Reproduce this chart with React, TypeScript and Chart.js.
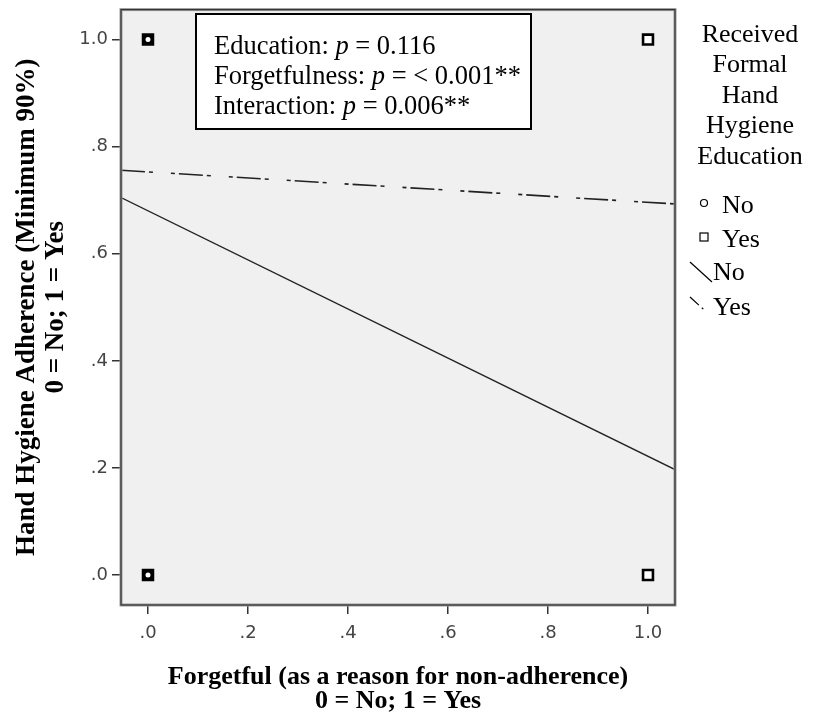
import React, { useEffect, useRef } from 'react';
import { Chart, registerables } from 'chart.js';

Chart.register(...registerables);

// ---- data ----
const xTickValues = [0, 0.2, 0.4, 0.6, 0.8, 1.0];
const xTickLabels = ['.0', '.2', '.4', '.6', '.8', '1.0'];
const yTickValues = [0, 0.2, 0.4, 0.6, 0.8, 1.0];
const yTickLabels = ['.0', '.2', '.4', '.6', '.8', '1.0'];

const xRange = [-0.054, 1.054];
const yRange = [-0.056, 1.056];

const obsNoX = [0, 0];
const obsNoY = [0, 1];
const obsYesX = [0, 0, 1, 1];
const obsYesY = [0, 1, 0, 1];

const fitX = [-0.054, 1.054];
const fitNo = [0.705, 0.197];
const fitYes = [0.756, 0.693];

const legendTitle = ['Received', 'Formal', 'Hand', 'Hygiene', 'Education'];
const legendLabels = ['No', 'Yes', 'No', 'Yes'];

const statLabels = ['Education: ', 'Forgetfulness: ', 'Interaction: '];
const statValues = [' = 0.116', ' = < 0.001**', ' = 0.006**'];

const xTitle = ['Forgetful (as a reason for non-adherence)', '0 = No; 1 = Yes'];
const yTitle = ['Hand Hygiene Adherence (Minimum 90%)', '0 = No; 1 = Yes'];

const SERIF = '"Liberation Serif", "Times New Roman", serif';
const DASH_DOT = [24, 4, 4, 18, 4, 4];

const toPts = (xs: number[], ys: number[]) => xs.map((x, i) => ({ x, y: ys[i] }));

const decorPlugin = {
  id: 'decor',
  beforeDraw(chart: any) {
    const { ctx, chartArea: a } = chart;
    ctx.save();
    ctx.fillStyle = '#f0f0f0';
    ctx.fillRect(a.left, a.top, a.right - a.left, a.bottom - a.top);
    ctx.restore();
  },
  afterDatasetsDraw(chart: any) {
    const { ctx, chartArea: a } = chart;
    ctx.save();
    // frame
    ctx.strokeStyle = '#9a9a9a';
    ctx.lineWidth = 3;
    ctx.strokeRect(a.left, a.top, a.right - a.left, a.bottom - a.top);
    ctx.strokeStyle = '#333';
    ctx.lineWidth = 1.2;
    ctx.strokeRect(a.left, a.top, a.right - a.left, a.bottom - a.top);

    // stats box
    const bx = 196, by = 14, bw = 335, bh = 115;
    ctx.fillStyle = '#fff';
    ctx.fillRect(bx, by, bw, bh);
    ctx.strokeStyle = '#000';
    ctx.lineWidth = 2;
    ctx.strokeRect(bx, by, bw, bh);
    ctx.fillStyle = '#000';
    ctx.textBaseline = 'middle';
    ctx.textAlign = 'left';
    statLabels.forEach((lab, i) => {
      const y = 47 + i * 30;
      let x = 214;
      ctx.font = `26.5px ${SERIF}`;
      ctx.fillText(lab, x, y);
      x += ctx.measureText(lab).width;
      ctx.font = `italic 26.5px ${SERIF}`;
      ctx.fillText('p', x, y);
      x += ctx.measureText('p').width;
      ctx.font = `26.5px ${SERIF}`;
      ctx.fillText(statValues[i], x, y);
    });

    // axis titles
    ctx.textBaseline = 'alphabetic';
    ctx.font = `bold 26px ${SERIF}`;
    ctx.textAlign = 'center';
    const cx = (a.left + a.right) / 2;
    ctx.fillText(xTitle[0], cx, 684);
    ctx.fillText(xTitle[1], cx, 708);
    const cy = (a.top + a.bottom) / 2;
    ctx.save();
    ctx.translate(34, cy);
    ctx.rotate(-Math.PI / 2);
    ctx.font = `bold 27px ${SERIF}`;
    ctx.fillText(yTitle[0], 0, 0);
    ctx.fillText(yTitle[1], 0, 29);
    ctx.restore();

    // legend
    ctx.textBaseline = 'middle';
    ctx.font = `26px ${SERIF}`;
    ctx.textAlign = 'center';
    legendTitle.forEach((t, i) => ctx.fillText(t, 750, 35 + i * 30.5));
    ctx.textAlign = 'left';
    const ly = [206, 240, 273, 308];
    legendLabels.forEach((t, i) => ctx.fillText(t, i < 2 ? 722 : 713, ly[i]));
    // legend symbols
    ctx.strokeStyle = '#000';
    ctx.lineWidth = 1.2;
    ctx.beginPath();
    ctx.arc(704, ly[0] - 3, 3.5, 0, Math.PI * 2);
    ctx.stroke();
    ctx.strokeRect(700, ly[1] - 7, 8, 8);
    ctx.beginPath();
    ctx.moveTo(690, ly[2] - 11);
    ctx.lineTo(712, ly[2] + 9);
    ctx.stroke();
    ctx.setLineDash([12, 4, 2, 20]);
    ctx.beginPath();
    ctx.moveTo(690, ly[3] - 11);
    ctx.lineTo(712, ly[3] + 9);
    ctx.stroke();
    ctx.restore();
  },
};

export default function App() {
  const ref = useRef<HTMLCanvasElement>(null);
  useEffect(() => {
    if (!ref.current) return;
    const fixTicks = (vals: number[]) => (scale: any) => {
      scale.ticks = vals.map((v) => ({ value: v }));
    };
    const chart = new Chart(ref.current, {
      type: 'scatter',
      data: {
        datasets: [
          {
            label: 'No',
            data: toPts(obsNoX, obsNoY),
            pointStyle: 'circle',
            pointRadius: 4,
            pointBorderWidth: 3,
            backgroundColor: '#fff',
            borderColor: '#000',
            order: 0,
          },
          {
            label: 'Yes',
            data: toPts(obsYesX, obsYesY),
            pointStyle: 'rect',
            pointRadius: 7,
            pointBorderWidth: 2.6,
            backgroundColor: '#fff',
            borderColor: '#000',
            order: 1,
          },
          {
            label: 'Fit No',
            data: toPts(fitX, fitNo),
            showLine: true,
            pointRadius: 0,
            borderColor: '#222',
            borderWidth: 1.4,
            order: 2,
          },
          {
            label: 'Fit Yes',
            data: toPts(fitX, fitYes),
            showLine: true,
            pointRadius: 0,
            borderColor: '#222',
            borderWidth: 1.6,
            borderDash: DASH_DOT,
            order: 3,
          },
        ],
      },
      options: {
        responsive: false,
        animation: false,
        layout: { padding: { top: 8, right: 139, left: 0, bottom: 0 } },
        plugins: { legend: { display: false }, tooltip: { enabled: false } },
        scales: {
          x: {
            type: 'linear',
            min: xRange[0],
            max: xRange[1],
            afterBuildTicks: fixTicks(xTickValues),
            afterFit: (s: any) => { s.height = 114; s.paddingLeft = 0; s.paddingRight = 0; },
            border: { display: false },
            grid: { drawOnChartArea: false, drawTicks: true, tickLength: 9, color: '#333', lineWidth: 1.5 },
            ticks: {
              padding: 9,
              color: '#444',
              font: { family: '"DejaVu Sans", sans-serif', size: 18 },
              callback: (v: any) => xTickLabels[xTickValues.findIndex((t) => Math.abs(t - v) < 1e-6)] ?? '',
              maxRotation: 0,
              autoSkip: false,
            },
          },
          y: {
            type: 'linear',
            min: yRange[0],
            max: yRange[1],
            afterBuildTicks: fixTicks(yTickValues),
            afterFit: (s: any) => { s.width = 121; s.paddingTop = 0; s.paddingBottom = 0; },
            border: { display: false },
            grid: { drawOnChartArea: false, drawTicks: true, tickLength: 9, color: '#333', lineWidth: 1.5 },
            ticks: {
              padding: 4,
              color: '#444',
              font: { family: '"DejaVu Sans", sans-serif', size: 18 },
              callback: (v: any) => yTickLabels[yTickValues.findIndex((t) => Math.abs(t - v) < 1e-6)] ?? '',
              autoSkip: false,
            },
          },
        },
      } as any,
      plugins: [decorPlugin],
    });
    return () => chart.destroy();
  }, []);
  return (
    <div style={{ position: 'absolute', left: 0, top: 0, width: 814, height: 719, background: '#fff' }}>
      <canvas ref={ref} width={814} height={719} />
    </div>
  );
}
